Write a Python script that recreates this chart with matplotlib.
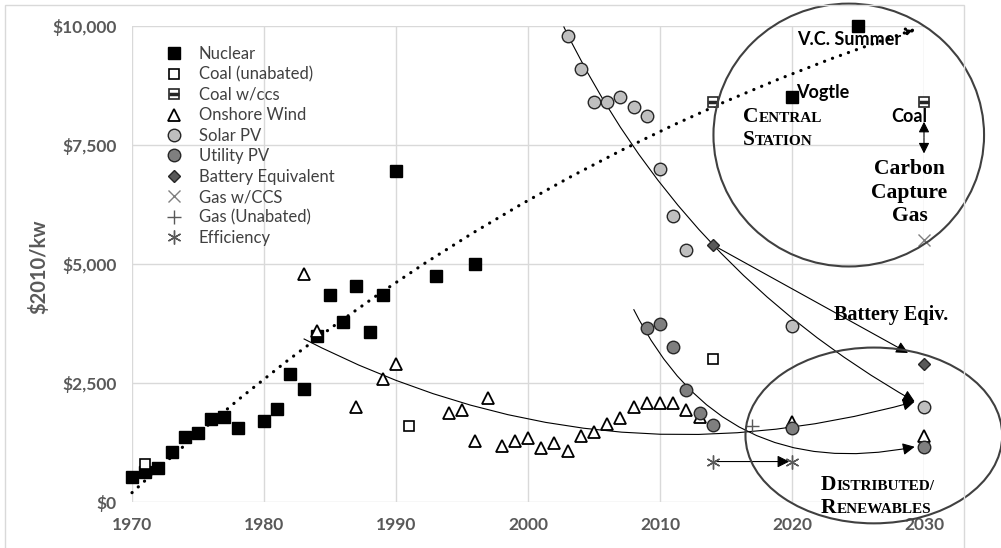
import matplotlib
matplotlib.use('Agg')
import matplotlib.pyplot as plt
from matplotlib.patches import Ellipse, Rectangle
from matplotlib.offsetbox import TextArea, HPacker, VPacker, AnnotationBbox

# ---- data ($2010 per kW) ----
nuclear_years = [1970, 1971, 1972, 1973, 1974, 1975, 1976, 1977, 1978, 1980, 1981, 1982,
                 1983, 1984, 1985, 1986, 1987, 1988, 1989, 1990, 1993, 1996, 2020, 2025]
nuclear_cost = [520, 620, 710, 1050, 1370, 1460, 1740, 1780, 1560, 1700, 1950, 2690,
                2370, 3480, 4350, 3780, 4540, 3580, 4350, 6950, 4750, 5000, 8500, 10000]

coal_years = [1971, 1991, 2014]
coal_cost = [800, 1600, 3000]

coal_ccs_years = [2014, 2030]
coal_ccs_cost = [8400, 8400]

wind_years = [1983, 1984, 1987, 1989, 1990, 1994, 1995, 1996, 1997, 1998, 1999, 2000, 2001,
              2002, 2003, 2004, 2005, 2006, 2007, 2008, 2009, 2010, 2011, 2012, 2013, 2020, 2030]
wind_cost = [4800, 3600, 1990, 2590, 2890, 1880, 1930, 1290, 2190, 1180, 1290, 1340, 1140,
             1230, 1080, 1390, 1480, 1640, 1760, 1990, 2080, 2080, 2080, 1930, 1780, 1690, 1390]

solar_years = [2003, 2004, 2005, 2006, 2007, 2008, 2009, 2010, 2011, 2012, 2020, 2030]
solar_cost = [9800, 9100, 8400, 8400, 8500, 8300, 8100, 7000, 6000, 5300, 3700, 2000]

utility_years = [2009, 2010, 2011, 2012, 2013, 2014, 2020, 2030]
utility_cost = [3650, 3750, 3250, 2350, 1880, 1620, 1550, 1150]

battery_years = [2014, 2030]
battery_cost = [5400, 2900]

gas_ccs_years = [2030]
gas_ccs_cost = [5500]

gas_years = [2017]
gas_cost = [1600]

eff_years = [2014, 2020]
eff_cost = [850, 850]

x_ticks = [1970, 1980, 1990, 2000, 2010, 2020, 2030]
y_ticks = [0, 2500, 5000, 7500, 10000]
y_ticklabels = ['\\$0', '\\$2,500', '\\$5,000', '\\$7,500', '\\$10,000']

SANS = 'Lato'
SERIF = 'Liberation Serif'
GRAY_TXT = '#595959'

plt.rcParams['font.family'] = [SANS, 'DejaVu Sans']

fig = plt.figure(figsize=(10.01, 5.48), dpi=100)
ax = fig.add_axes([132 / 1001, 1 - 502 / 548, 792 / 1001, 476 / 548])

# outer chart border
fig.patches.append(Rectangle((5 / 1001, -0.05), 959 / 1001, 1.05 - 5 / 548,
                             transform=fig.transFigure, fill=False,
                             edgecolor='#d9d9d9', lw=1.0, zorder=0))

ax.set_xlim(1970, 2030)
ax.set_ylim(0, 10000)
ax.set_xticks(x_ticks)
ax.set_yticks(y_ticks)
ax.set_yticklabels(y_ticklabels)
ax.grid(True, color='#d9d9d9', lw=1.0)
ax.set_axisbelow(True)
for s in ax.spines.values():
    s.set_visible(False)
ax.tick_params(axis='both', length=0, labelcolor=GRAY_TXT, labelsize=12.5)
ax.tick_params(axis='x', pad=11)
ax.tick_params(axis='y', pad=11)
for lab in ax.get_xticklabels() + ax.get_yticklabels():
    lab.set_fontweight('bold')

ax.set_ylabel('\\$2010/kw', fontsize=14.5, fontweight='bold', color=GRAY_TXT)
ax.yaxis.set_label_coords(-0.104, 0.494)

# ---- markers ----
kw = dict(linestyle='none', clip_on=False, zorder=5)
h_nuc, = ax.plot(nuclear_years, nuclear_cost, marker='s', ms=8.5, mfc='black', mec='black', **kw)
h_coal, = ax.plot(coal_years, coal_cost, marker='s', ms=7.5, mfc='white', mec='black', mew=1.2, **kw)
h_ccs1, = ax.plot(coal_ccs_years, coal_ccs_cost, marker='s', ms=7.5, mfc='white', mec='#262626', mew=1.2, **kw)
h_ccs2, = ax.plot(coal_ccs_years, coal_ccs_cost, marker='_', ms=7, mec='#262626', mew=2.5, **kw)
h_wind, = ax.plot(wind_years, wind_cost, marker='^', ms=8.5, mfc='white', mec='black', mew=1.3, **kw)
h_solar, = ax.plot(solar_years, solar_cost, marker='o', ms=9, mfc='#bfbfbf', mec='#262626', mew=1.0, **kw)
h_util, = ax.plot(utility_years, utility_cost, marker='o', ms=9, mfc='#7f7f7f', mec='#262626', mew=1.0, **kw)
h_batt, = ax.plot(battery_years, battery_cost, marker='D', ms=6, mfc='#595959', mec='#262626', mew=1.0, **kw)
h_gccs, = ax.plot(gas_ccs_years, gas_ccs_cost, marker='x', ms=9, mec='#7f7f7f', mew=1.0, **kw)
h_gas, = ax.plot(gas_years, gas_cost, marker='+', ms=10, mec='#595959', mew=1.0, **kw)
h_eff, = ax.plot(eff_years, eff_cost, marker=(6, 2, 0), ms=10, mec='#595959', mew=1.0, **kw)

handles = [h_nuc, h_coal, (h_ccs1, h_ccs2), h_wind, h_solar, h_util, h_batt, h_gccs, h_gas, h_eff]
labels = ['Nuclear', 'Coal (unabated)', 'Coal w/ccs', 'Onshore Wind', 'Solar PV', 'Utility PV',
          'Battery Equivalent', 'Gas w/CCS', 'Gas (Unabated)', 'Efficiency']
leg = ax.legend(handles, labels, loc='upper left', bbox_to_anchor=(0.042, 0.958),
                frameon=False, fontsize=12, handlelength=1.0, handletextpad=1.0,
                labelspacing=0.265, borderpad=0, borderaxespad=0)
for t in leg.get_texts():
    t.set_color('#404040')

# ---- trend curves / arrows ----
def arrow(start, end, rad=0.0, ls='-', lw=0.8, ms=18, cap='butt'):
    ax.annotate('', xy=end, xytext=start, annotation_clip=False,
                arrowprops=dict(arrowstyle='-|>', connectionstyle=f'arc3,rad={rad}',
                                color='black', lw=lw, linestyle=ls, mutation_scale=ms,
                                capstyle=cap, shrinkA=0, shrinkB=0), zorder=4)

arrow((1970, 196), (2029.4, 9936), rad=-0.11, ls=(0, (0.05, 2.6)), lw=2.3, ms=12, cap='round')
arrow((2002.7, 9990), (2029.3, 2110), rad=0.156)
arrow((1983, 3430), (2029.3, 2110), rad=0.197)
arrow((2008, 4050), (2029.3, 1160), rad=0.38)
arrow((2014, 5400), (2028.8, 3130))
arrow((2014, 850), (2019.8, 850))
arrow((2030, 7650), (2030, 7990), ms=16)
arrow((2030, 7650), (2030, 7320), ms=16)

# ---- circles ----
ax.add_patch(Ellipse((2024.3, 7709), 20.5, 5522, fill=False, edgecolor='#404040', lw=1.5,
                     clip_on=False, zorder=6))
ax.add_patch(Ellipse((2026.2, 1398), 19.45, 3693, fill=False, edgecolor='#404040', lw=1.5,
                     clip_on=False, zorder=6))

# ---- annotations ----
ax.text(2024.3, 9712, 'V.C. Summer', fontsize=13, fontweight='bold', ha='center', va='center', zorder=7)
ax.text(2020.3, 8604, 'Vogtle', fontsize=13, fontweight='bold', ha='left', va='center', zorder=7)
ax.text(2028.9, 8100, 'Coal', fontsize=13, fontweight='bold', ha='center', va='center', zorder=7)
ax.text(2028.9, 6500, 'Carbon\nCapture\nGas', fontsize=15.5, fontweight='bold', family=SERIF,
        ha='center', va='center', linespacing=1.25, zorder=7)
ax.text(2027.5, 3931, 'Battery Eqiv.', fontsize=14.5, fontweight='bold', family=SERIF,
        ha='center', va='center', zorder=7)


def small_caps(lines, big=15.5, small=11):
    rows = []
    for line in lines:
        parts = [TextArea(line[0], textprops=dict(fontsize=big, fontweight='bold', family=SERIF)),
                 TextArea(line[1:], textprops=dict(fontsize=small, fontweight='bold', family=SERIF))]
        rows.append(HPacker(children=parts, align='baseline', pad=0, sep=0))
    return VPacker(children=rows, align='left', pad=0, sep=2)


for lines, xy in [(['CENTRAL', 'STATION'], (2016.3, 7840)),
                  (['DISTRIBUTED/', 'RENEWABLES'], (2022.2, 110))]:
    ab = AnnotationBbox(small_caps(lines), xy, xycoords='data', box_alignment=(0, 0.5),
                        frameon=False, pad=0, annotation_clip=False, zorder=7)
    ax.add_artist(ab)

fig.savefig('out.png', dpi=100)
